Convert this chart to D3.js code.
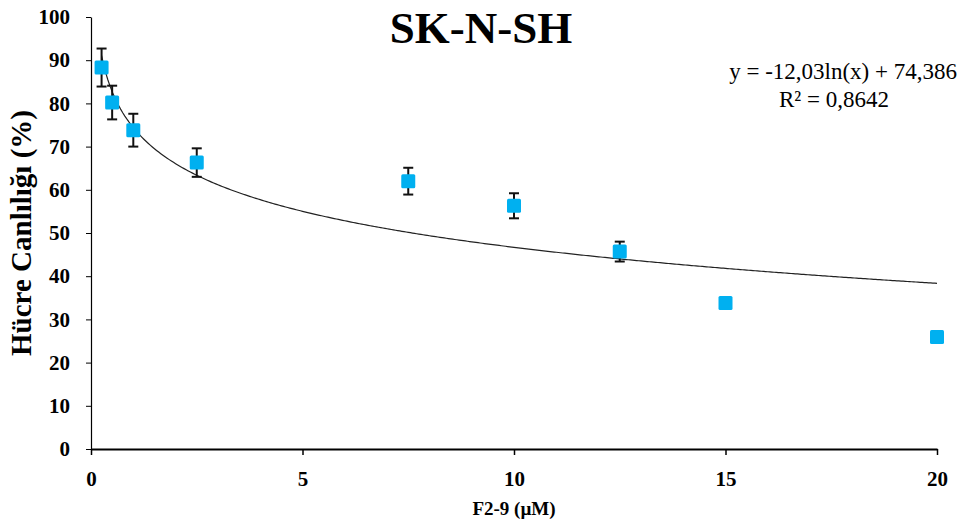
<!DOCTYPE html>
<html>
<head>
	<meta charset="utf-8">
	<title>SK-N-SH</title>
	<script src="https://cdn.jsdelivr.net/npm/d3@7"></script>
	<style>
		body, html { margin: 0; background: #fff; overflow: hidden; }
		text { font-family: "Liberation Serif", "Times New Roman", serif; }
		.tick text { font-weight: bold; font-size: 21px; fill: #000; }
		.axis path, .axis line { stroke: #000; }
	</style>
</head>
<body>
<div id="chart"></div>
<script>
	// concentrations (uM) and viability (%)
	var doses = [0.25, 0.5, 1, 2.5, 7.5, 10, 12.5, 15, 20];
	var viability = [88.3, 80.2, 73.8, 66.3, 62.0, 56.3, 45.7, 33.8, 25.9];
	var errors = [4.4, 3.9, 3.8, 3.3, 3.1, 2.9, 2.3, 1.0, 0.8];
	var xTicks = [0, 5, 10, 15, 20];
	var yTicks = [0, 10, 20, 30, 40, 50, 60, 70, 80, 90, 100];
	// log trend line coefficients
	var fitA = -12.03, fitB = 74.386;

	var w = 964, h = 522;
	var mLeft = 91, mRight = 937, mTop = 17, mBottom = 449;

	var svg = d3.select("#chart").append("svg")
		.attr("width", w)
		.attr("height", h);

	var x = d3.scaleLinear().domain([0, 20]).range([mLeft, mRight]);
	var y = d3.scaleLinear().domain([0, 100]).range([mBottom, mTop]);

	// y axis
	var yAxis = svg.append("g")
		.attr("class", "axis")
		.attr("transform", "translate(" + mLeft + ",0)")
		.call(d3.axisLeft(y).tickValues(yTicks).tickSize(5).tickSizeOuter(0).tickPadding(16));
	yAxis.select(".domain").attr("stroke-width", 1.2);

	// x axis
	var xAxis = svg.append("g")
		.attr("class", "axis")
		.attr("transform", "translate(0," + mBottom + ")")
		.call(d3.axisBottom(x).tickValues(xTicks).tickSize(6).tickSizeOuter(0).tickPadding(16));
	xAxis.select(".domain").attr("stroke-width", 2);
	xAxis.selectAll(".tick line").attr("stroke-width", 1.5);

	// trend line
	var fitXs = d3.range(0.25, 20.001, 0.05);
	var line = d3.line()
		.x(function (d) { return x(d); })
		.y(function (d) { return y(fitA * Math.log(d) + fitB); });
	svg.append("path")
		.datum(fitXs)
		.attr("d", line)
		.attr("fill", "none")
		.attr("stroke", "#222")
		.attr("stroke-width", 1.2);

	// error bars
	var eb = svg.append("g").attr("stroke", "#111").attr("stroke-width", 2);
	doses.forEach(function (d, i) {
		var cx = x(d), yt = y(viability[i] + errors[i]), yb = y(viability[i] - errors[i]);
		eb.append("line").attr("x1", cx).attr("x2", cx).attr("y1", yt).attr("y2", yb);
		eb.append("line").attr("x1", cx - 5).attr("x2", cx + 5).attr("y1", yt).attr("y2", yt);
		eb.append("line").attr("x1", cx - 5).attr("x2", cx + 5).attr("y1", yb).attr("y2", yb);
	});

	// markers
	var ms = 14;
	svg.append("g").selectAll("rect")
		.data(doses)
		.enter().append("rect")
		.attr("x", function (d) { return x(d) - ms / 2; })
		.attr("y", function (d, i) { return y(viability[i]) - ms / 2; })
		.attr("width", ms)
		.attr("height", ms)
		.attr("rx", 1.5)
		.attr("fill", "#00b0f0");

	// title
	svg.append("text")
		.attr("x", 481).attr("y", 43)
		.attr("text-anchor", "middle")
		.attr("font-size", 45).attr("font-weight", "bold")
		.text("SK-N-SH");

	// equation
	svg.append("text")
		.attr("x", 957).attr("y", 79)
		.attr("text-anchor", "end")
		.attr("font-size", 23)
		.text("y = -12,03ln(x) + 74,386");
	svg.append("text")
		.attr("x", 834).attr("y", 107)
		.attr("text-anchor", "middle")
		.attr("font-size", 23)
		.text("R² = 0,8642");

	// axis titles
	svg.append("text")
		.attr("transform", "translate(31," + ((mTop + mBottom) / 2) + ") rotate(-90)")
		.attr("text-anchor", "middle")
		.attr("font-size", 29).attr("font-weight", "bold")
		.text("Hücre Canlılığı (%)");
	svg.append("text")
		.attr("x", 514).attr("y", 515)
		.attr("text-anchor", "middle")
		.attr("font-size", 19).attr("font-weight", "bold")
		.text("F2-9 (µM)");
</script>
</body>
</html>
